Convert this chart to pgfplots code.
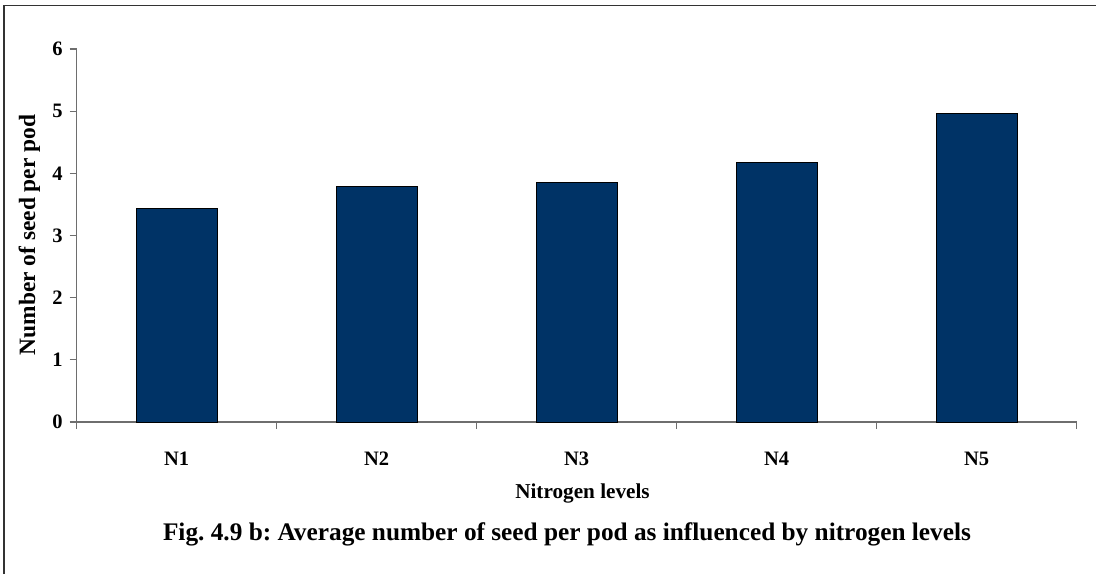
\documentclass[border=0pt]{standalone}
\usepackage{fontspec}
\setmainfont{Liberation Serif}
\usepackage{pgfplots}
\pgfplotsset{compat=1.18}
\definecolor{navybar}{HTML}{003366}
\definecolor{axgray}{HTML}{6E6E6E}

\begin{document}
\frenchspacing
\begin{tikzpicture}
\useasboundingbox (0,0) rectangle (548pt,287pt);
% outer chart frame (left and top edges visible)
\draw[line width=0.75pt, black!80] (2pt,0) -- (2pt,284.25pt) -- (548pt,284.25pt);
\begin{axis}[
  at={(38.35pt,76pt)}, anchor=south west,
  scale only axis,
  width=500pt, height=186.5pt,
  xmin=-0.5, xmax=4.5,
  ymin=0, ymax=6,
  ytick={0,1,...,6},
  xtick={-0.5,0.5,1.5,2.5,3.5,4.5},
  xticklabels={},
  extra x ticks={0,1,2,3,4},
  extra x tick labels={N1,N2,N3,N4,N5},
  extra x tick style={major tick length=0pt, xticklabel style={yshift=-11.5pt}},
  axis lines*=left,
  axis line style={axgray, line width=0.6pt},
  every tick/.style={axgray, line width=0.6pt},
  tick align=outside,
  major tick length=3.5pt,
  tick label style={font=\fontsize{10.25}{12}\selectfont\bfseries},
  /pgf/number format/assume math mode=true,
  ybar, bar width=40.5pt,
]
\addplot[fill=navybar, draw=black, line width=0.5pt] coordinates {
  (0,3.43) (1,3.79) (2,3.86) (3,4.18) (4,4.97)
};
\end{axis}
\node[anchor=base, font=\fontsize{10.6}{12}\selectfont\bfseries] at (291.25pt,37.85pt) {Nitrogen levels};
\node[anchor=base, rotate=90, font=\fontsize{11.7}{14}\selectfont\bfseries] at (17.5pt,169.5pt) {Number of seed per pod};
\node[anchor=base, font=\fontsize{12.65}{15}\selectfont\bfseries] at (283.5pt,17pt) {Fig. 4.9 b: Average number of seed per pod as influenced by nitrogen levels};
\end{tikzpicture}
\end{document}
